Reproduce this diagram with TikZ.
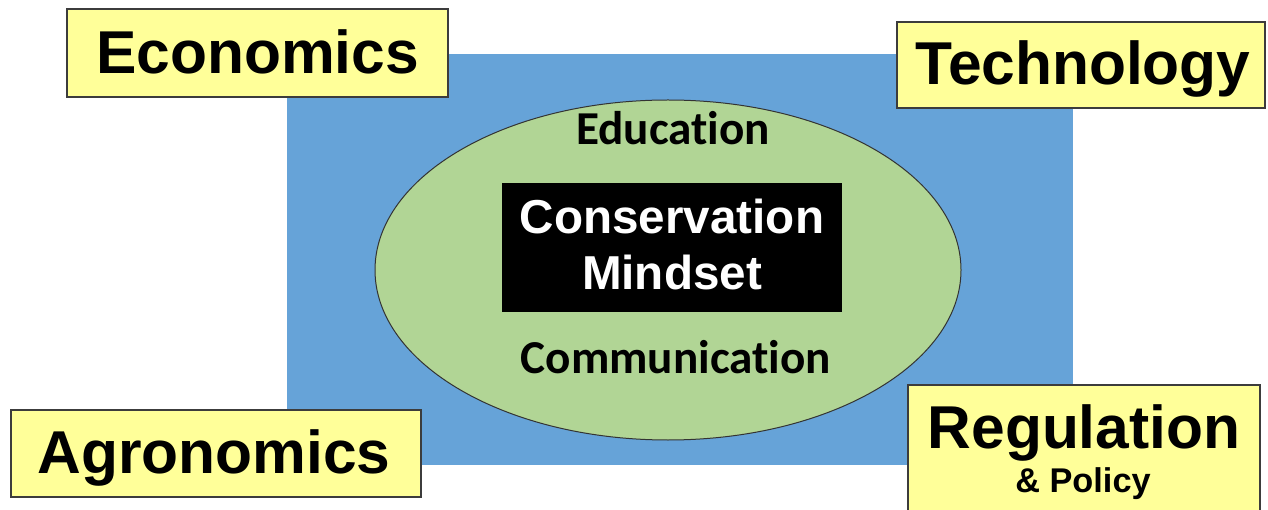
\documentclass[tikz,border=0pt]{standalone}
\usepackage{fontspec}
\setmainfont{Liberation Sans}
\newfontfamily\calib[Ligatures={NoCommon,NoRequired,NoContextual}]{Carlito}
\usetikzlibrary{shapes.geometric}
\definecolor{bluebg}{RGB}{102,163,216}
\definecolor{greenell}{RGB}{177,213,149}
\definecolor{yellowbox}{RGB}{255,255,153}
\definecolor{boxline}{RGB}{60,60,60}
\tikzset{
  ybox/.style={draw=boxline, line width=1.5pt, fill=yellowbox, rectangle, inner sep=0pt},
  bigtxt/.style={anchor=base, inner sep=0pt, font=\fontsize{60.5}{60.5}\selectfont\bfseries},
  midtxt/.style={anchor=base, inner sep=0pt, font=\fontsize{47.6}{47.6}\selectfont\bfseries, text=white},
  caltxt/.style={anchor=base, inner sep=0pt, font=\fontsize{47.2}{47.2}\selectfont\calib\bfseries},
}
\begin{document}
\begin{tikzpicture}[x=1pt,y=-1pt]
\useasboundingbox (0,0) rectangle (1268,510);
\clip (0,0) rectangle (1268,510);
% blue background rectangle
\node[rectangle, fill=bluebg, inner sep=0pt, minimum width=786pt, minimum height=411pt] (bg) at (680,259.5) {};
% green ellipse
\node[ellipse, draw=black!80, line width=1pt, fill=greenell, inner sep=0pt, minimum width=586pt, minimum height=340pt] (ell) at (668,270) {};
% black box
\node[rectangle, fill=black, inner sep=0pt, minimum width=340pt, minimum height=129pt] (core) at (672,247.5) {};
\node[midtxt] (cons) at (672,234) {Conservation};
\node[midtxt] (mind) at (672,290) {Mindset};
\node[caltxt] (edu) at (673,145) {Education};
\node[caltxt] (comm) at (676,373) {Communication};
% yellow boxes
\node[ybox, minimum width=381pt, minimum height=88pt] (econbox) at (257.5,53) {};
\node[bigtxt] (econ) at (257.5,74) {Economics};
\node[ybox, minimum width=368pt, minimum height=86pt] (techbox) at (1081,65) {};
\node[bigtxt] (tech) at (1083,85) {Technology};
\node[ybox, minimum width=410pt, minimum height=87pt] (agrobox) at (216,453.5) {};
\node[bigtxt] (agro) at (214,473) {Agronomics};
\node[ybox, minimum width=352pt, minimum height=140pt] (regbox) at (1084,455) {};
\node[bigtxt] (reg) at (1084,448) {Regulation};
\node[anchor=base, inner sep=0pt, font=\fontsize{34.3}{34.3}\selectfont\bfseries] (pol) at (1083,492) {\& Policy};
\end{tikzpicture}
\end{document}
